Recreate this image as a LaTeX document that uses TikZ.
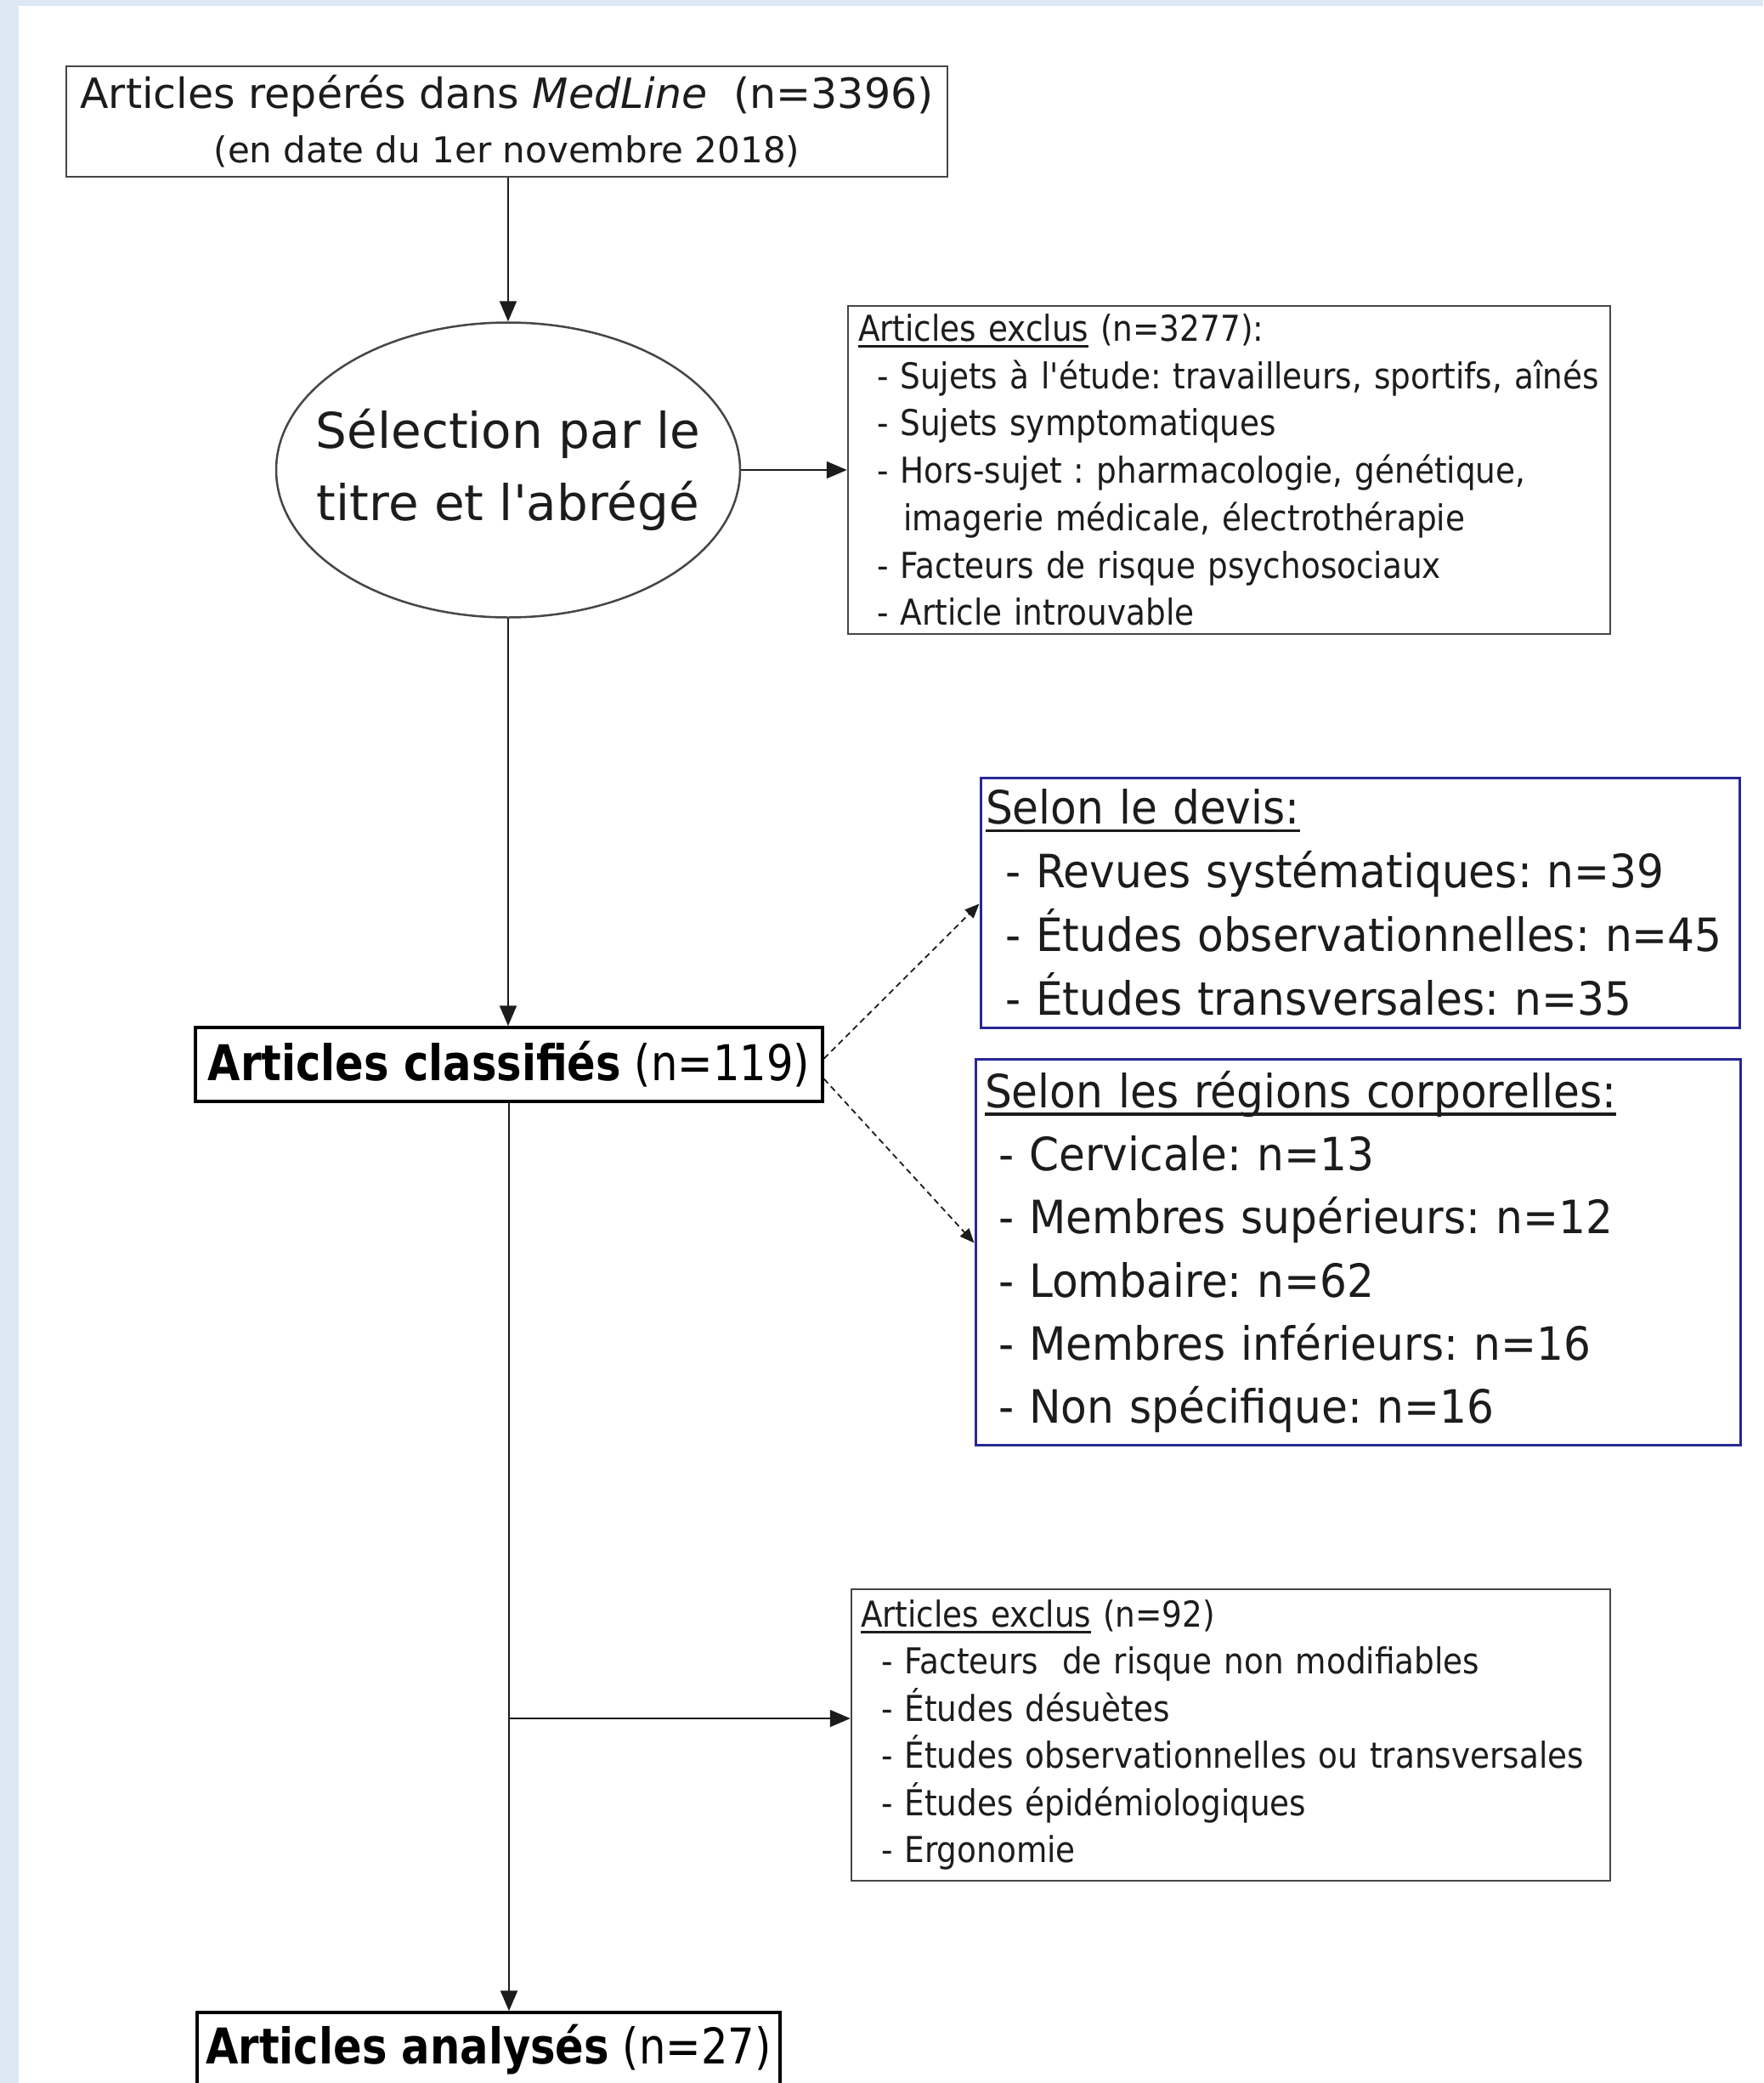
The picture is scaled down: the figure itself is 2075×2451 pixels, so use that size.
\documentclass[tikz,border=0pt]{standalone}
\usepackage{fontspec}
\setmainfont[Ligatures=TeXOff]{DejaVu Sans}
\newfontfamily\fTop[Ligatures=TeXOff]{DejaVu Sans}
\newfontfamily\fExc[Ligatures=TeXOff,FakeStretch=0.89]{DejaVu Sans}
\newfontfamily\fBlue[Ligatures=TeXOff,FakeStretch=0.93]{DejaVu Sans}
\newfontfamily\fBold[Ligatures=TeXOff,FakeStretch=0.855]{DejaVu Sans}
\usetikzlibrary{arrows.meta,shapes.geometric,calc}
\definecolor{bgblue}{RGB}{221,232,245}
\definecolor{boxblue}{RGB}{40,40,150}
\definecolor{ink}{RGB}{28,28,28}
\definecolor{framegray}{RGB}{70,70,70}
\newsavebox\ulbox
\newcommand\myul[1]{\sbox\ulbox{#1}\rlap{\rule[-0.17em]{\wd\ulbox}{0.06em}}\usebox\ulbox}
\tikzset{
  graybox/.style={draw=framegray, line width=2.5pt, rectangle, inner sep=0pt, text=ink},
  bluebox/.style={draw=boxblue, line width=3pt, rectangle, inner sep=0pt, text=ink},
  mainbox/.style={draw=black, line width=3.5pt, rectangle, inner sep=0pt, text=black},
  conn/.style={draw=ink, line width=2pt, -{Triangle[length=24pt,width=20pt]}},
  dconn/.style={draw=ink, line width=1.8pt, dash pattern=on 7pt off 5pt, -{Triangle[length=17pt,width=14pt]}}
}
\begin{document}
\frenchspacing
\begin{tikzpicture}[x=1pt,y=-1pt]
\fill[bgblue] (0,0) rectangle (2075,2451);
\fill[white] (22,7) rectangle (2075,2451);
\useasboundingbox (0,0) rectangle (2075,2451);
\clip (0,0) rectangle (2075,2451);

% top box
\node[graybox, minimum width=1037pt, minimum height=130pt, align=center,
      font=\fTop\fontsize{42}{64}\selectfont\frenchspacing] (top) at (596.5,143)
  {{\fontsize{49}{64}\selectfont Articles repérés dans \textit{MedLine}\ \ (n=3396)}\\
   (en date du 1er novembre 2018)};

% ellipse
\node[ellipse, draw=framegray, line width=2.5pt, minimum width=546pt, minimum height=347pt,
      inner sep=-80pt, align=center, text=ink, font=\fTop\fontsize{58}{85}\selectfont] (ell) at (598,553)
  {Sélection par le\\titre et l'abrégé};

% exclusion box 1
\node[graybox, minimum width=897pt, minimum height=386pt, text width=873pt, align=left,
      font=\fExc\fontsize{42}{55.7}\selectfont\frenchspacing] (ex1) at (1446.5,553)
  {\mbox{\myul{Articles exclus} (n=3277):}\\
   \mbox{\hspace*{22pt}- Sujets à l'étude: travailleurs, sportifs, aînés}\\
   \mbox{\hspace*{22pt}- Sujets symptomatiques}\\
   \mbox{\hspace*{22pt}- Hors-sujet : pharmacologie, génétique,}\\
   \mbox{\hspace*{53pt}imagerie médicale, électrothérapie}\\
   \mbox{\hspace*{22pt}- Facteurs de risque psychosociaux}\\
   \mbox{\hspace*{22pt}- Article introuvable}};

% blue box: devis
\node[bluebox, minimum width=893pt, minimum height=294pt, text width=881pt, align=left,
      font=\fBlue\fontsize{54}{75}\selectfont\frenchspacing] (dev) at (1600.5,1062)
  {\mbox{\myul{Selon le devis:}}\\
   \mbox{\hspace*{23pt}- Revues systématiques: n=39}\\
   \mbox{\hspace*{23pt}- Études observationnelles: n=45}\\
   \mbox{\hspace*{23pt}- Études transversales: n=35}};

% blue box: regions
\node[bluebox, minimum width=900pt, minimum height=454pt, text width=878pt, align=left,
      font=\fBlue\fontsize{54}{74.2}\selectfont\frenchspacing] (reg) at (1598,1473)
  {\mbox{\myul{Selon les régions corporelles:}}\\
   \mbox{\hspace*{16pt}- Cervicale: n=13}\\
   \mbox{\hspace*{16pt}- Membres supérieurs: n=12}\\
   \mbox{\hspace*{16pt}- Lombaire: n=62}\\
   \mbox{\hspace*{16pt}- Membres inférieurs: n=16}\\
   \mbox{\hspace*{16pt}- Non spécifique: n=16}};

% classified
\node[mainbox, minimum width=738pt, minimum height=87pt,
      font=\fBold\fontsize{58}{70}\selectfont] (cls) at (599,1252.5)
  {\textbf{Articles classifiés} (n=119)};

% exclusion box 2
\node[graybox, minimum width=893pt, minimum height=343pt, text width=871pt, align=left,
      font=\fExc\fontsize{42}{55.5}\selectfont\frenchspacing] (ex2) at (1448.5,2041.5)
  {\mbox{\myul{Articles exclus} (n=92)}\\
   \mbox{\hspace*{24pt}- Facteurs\ \ de risque non modifiables}\\
   \mbox{\hspace*{24pt}- Études désuètes}\\
   \mbox{\hspace*{24pt}- Études observationnelles ou transversales}\\
   \mbox{\hspace*{24pt}- Études épidémiologiques}\\
   \mbox{\hspace*{24pt}- Ergonomie}};

% analysed
\node[mainbox, minimum width=686pt, minimum height=87pt,
      font=\fBold\fontsize{58}{70}\selectfont] (ana) at (575,2411.5)
  {\textbf{Articles analysés} (n=27)};

% connectors
\draw[conn] (top.south -| ell.north) -- (ell.north);
\draw[conn] (ell.east) -- (ex1.west |- ell.east);
\draw[conn] (ell.south) -- (ell.south |- cls.north);
\draw[conn] (cls.south) -- (cls.south |- ana.north);
\coordinate (br) at (599,2022);
\draw[conn] (br) -- (br -| ex2.west);
\draw[dconn] ([yshift=7pt]cls.east) -- ([yshift=-150pt]dev.north west);
\draw[dconn] ([yshift=-17pt]cls.east) -- ([yshift=-218pt]reg.north west);
\end{tikzpicture}
\end{document}
